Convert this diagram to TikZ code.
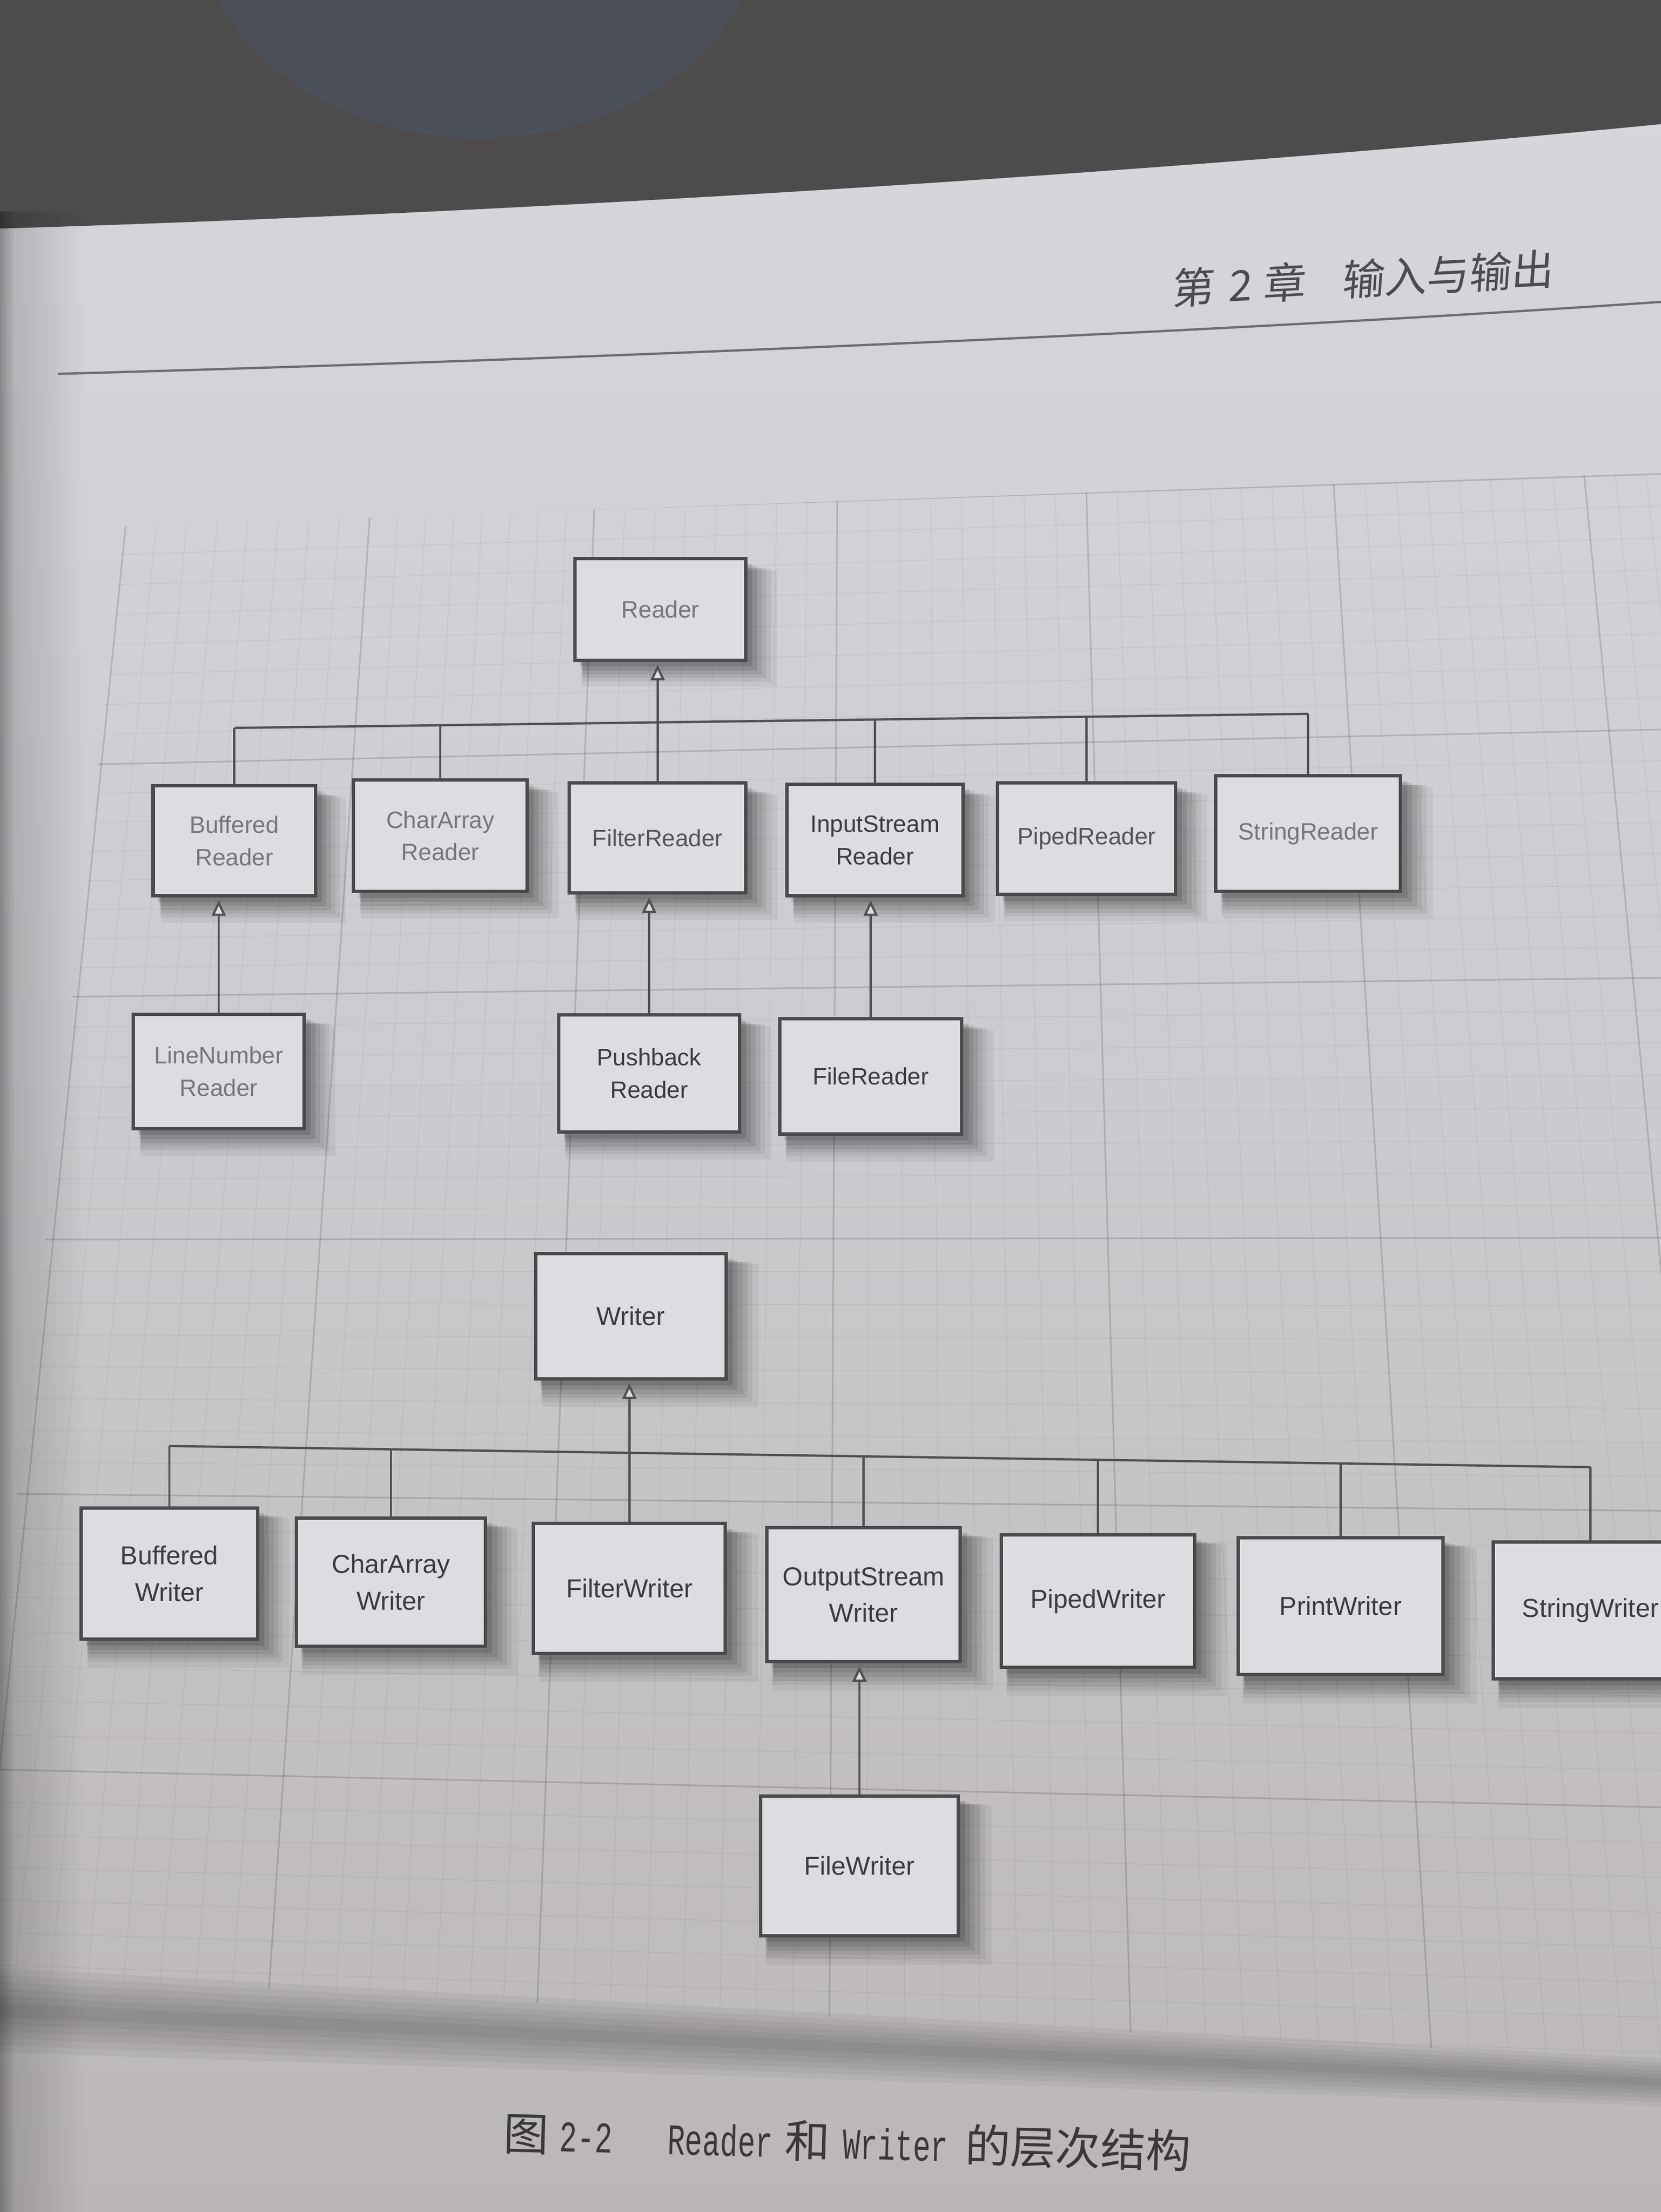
\documentclass[tikz,border=0pt]{standalone}
\usepackage{fontspec}
\setmainfont{Liberation Sans}
\newfontfamily\cjkfont{Noto Sans CJK SC}
\newfontfamily\cjkhead[FakeSlant=0.12]{Noto Sans CJK SC}
\newfontfamily\capmono[FakeStretch=0.67]{Liberation Mono}
\usetikzlibrary{arrows.meta,shadows,fadings}
\tikzfading[name=edgefade, left color=transparent!0, right color=transparent!100]
\definecolor{topdark}{HTML}{4E4B4D}
\definecolor{mugc}{HTML}{4B4F58}
\definecolor{pga}{HTML}{D8D7DC}
\definecolor{pgb}{HTML}{CCCACE}
\definecolor{pgc}{HTML}{BBB7B7}
\definecolor{boxfill}{HTML}{DDDCE0}
\definecolor{boxline}{HTML}{4A4A4D}
\definecolor{connc}{HTML}{505052}
\definecolor{txtfade}{HTML}{77777A}
\definecolor{txtmid}{HTML}{555558}
\definecolor{txtdark}{HTML}{3C3C3E}
\definecolor{headc}{HTML}{4D4B4D}
\definecolor{capc}{HTML}{3A3838}
\definecolor{rulec}{HTML}{6E6C6F}
\begin{document}
\begin{tikzpicture}[x=0.5pt,y=-0.5pt,
  cls/.style={draw=boxline, line width=1.2pt, fill=boxfill, align=center, inner sep=1pt,
    general shadow={shadow xshift=6pt,shadow yshift=-6pt,shadow scale=1.14,opacity=.05,fill=black},
    general shadow={shadow xshift=5pt,shadow yshift=-5pt,shadow scale=1.11,opacity=.06,fill=black},
    general shadow={shadow xshift=4.5pt,shadow yshift=-4.5pt,shadow scale=1.08,opacity=.07,fill=black},
    general shadow={shadow xshift=4pt,shadow yshift=-4pt,shadow scale=1.05,opacity=.08,fill=black},
    general shadow={shadow xshift=3pt,shadow yshift=-3pt,shadow scale=1.03,opacity=.10,fill=black},
    general shadow={shadow xshift=2pt,shadow yshift=-2pt,shadow scale=1.01,opacity=.12,fill=black}},
  sz/.style 2 args={minimum width=#1*0.5pt, minimum height=#2*0.5pt},
  rd/.style={font=\fontsize{8.4}{11.5}\selectfont},
  wr/.style={font=\fontsize{9.2}{13}\selectfont, text=txtdark},
  conn/.style={draw=connc, line width=0.8pt},
  inh/.style={-{Triangle[length=5.5pt,width=5pt,fill=boxfill]}, shorten >=1pt},
  gmaj/.style={draw=black, draw opacity=.15, line width=0.55pt},
  gmin/.style={draw=black, draw opacity=.045, line width=0.35pt}]
\useasboundingbox (0,0) rectangle (1177,1568);
\clip (0,0) rectangle (1177,1568);

% page background
\shade[top color=pga, bottom color=pgb] (0,0) rectangle (1177,800);
\shade[top color=pgb, bottom color=pgc] (0,800) rectangle (1177,1568);

% dark surroundings at the top and the mug
\fill[topdark] (0,0) -- (1177,0) -- (1177,88) .. controls (850,120) and (400,150) .. (0,162) -- cycle;
\fill[mugc] (340,-55) ellipse [x radius=198, y radius=153];

% left page edge
\fill[black, opacity=.18, path fading=edgefade] (0,150) rectangle (60,1568);
\fill[black, opacity=.2, path fading=edgefade] (0,150) rectangle (10,1568);

% header
\node[anchor=base west, rotate=3, text=headc, inner sep=0pt,
      font=\fontsize{15}{15}\selectfont\cjkhead] (head) at (830,216)
  {第\hspace{5pt}2\hspace{4pt}章\hspace{13pt}输入与输出};
\draw[rulec, line width=0.8pt] (41,265) .. controls (300,258) and (800,240) .. (1177,214);

% grid paper
\begin{scope}
\clip (88,373) -- (1177,335) -- (1177,1460) -- (-25,1399) -- cycle;
\foreach \ga/\gb in {66/246,246/412,412/592,592/777,777/961,961/1148,1148/1333} {
  \foreach \gk in {0,...,7} {
    \pgfmathsetmacro{\gX}{\ga+(\gb-\ga)*\gk/8}
    \pgfmathsetmacro{\gXt}{620+(\gX-620)*(1+(300-600)*0.00018)}
    \pgfmathsetmacro{\gXb}{620+(\gX-620)*(1+(1500-600)*0.00018)}
    \ifnum\gk=0
      \draw[gmaj] (\gXt,300) -- (\gXb,1500);
    \else
      \draw[gmin] (\gXt,300) -- (\gXb,1500);
    \fi
  }
}
\foreach \ga/\gb in {355/530,530/700,700/878,878/1065,1065/1268,1268/1460} {
  \foreach \gk in {0,...,7} {
    \pgfmathsetmacro{\gY}{\ga+(\gb-\ga)*\gk/8}
    \pgfmathsetmacro{\gS}{-0.033+(\gY-355)*0.000065}
    \pgfmathsetmacro{\gYl}{\gY+\gS*(-630)}
    \pgfmathsetmacro{\gYr}{\gY+\gS*(600)}
    \ifnum\gk=0
      \draw[gmaj] (-30,\gYl) -- (1200,\gYr);
    \else
      \draw[gmin] (-30,\gYl) -- (1200,\gYr);
    \fi
  }
}
\end{scope}

% shadow of the bent page
\foreach \gk in {1,...,6} {
  \fill[black, opacity=.045]
    (0,1425-5*\gk) -- (1177,1476-2.8*\gk) -- (1177,1476+2.8*\gk) -- (0,1425+5*\gk) -- cycle;
}

% ---------- Reader hierarchy ----------
\node[cls,sz={121}{72},rd,text=txtfade] (reader) at (468,432) {Reader};
\node[cls,sz={115}{78},rd,text=txtfade] (bufr) at (166,596) {Buffered\\Reader};
\node[cls,sz={123}{79},rd,text=txtfade] (carr) at (312,592.5) {CharArray\\Reader};
\node[cls,sz={125}{78},rd,text=txtmid] (fltr) at (466,594) {FilterReader};
\node[cls,sz={125}{79},rd,text=txtdark] (isr) at (620,595.5) {InputStream\\Reader};
\node[cls,sz={126}{79},rd,text=txtmid] (pipr) at (770,594.5) {PipedReader};
\node[cls,sz={131}{82},rd,text=txtfade] (strr) at (927,591) {StringReader};
\node[cls,sz={121}{81},rd,text=txtfade] (lnr) at (155,759.5) {LineNumber\\Reader};
\node[cls,sz={128}{83},rd,text=txtdark] (pbr) at (460,761) {Pushback\\Reader};
\node[cls,sz={129}{82},rd,text=txtdark] (frd) at (617,763) {FileReader};

\coordinate (rb1) at (166,516);
\coordinate (rb2) at (312,514.1);
\coordinate (rb4) at (620,510);
\coordinate (rb5) at (770,508);
\coordinate (rb6) at (927,506);
\draw[conn] (rb1) -- (rb6);
\foreach \n/\c in {bufr/rb1, carr/rb2, isr/rb4, pipr/rb5, strr/rb6}
  \draw[conn] (\n.north) -- (\c);
\draw[conn,inh] (fltr.north) -- (fltr.north |- reader.south);
\draw[conn,inh] (lnr.north) -- (lnr.north |- bufr.south);
\draw[conn,inh] (pbr.north) -- (pbr.north |- fltr.south);
\draw[conn,inh] (frd.north) -- (frd.north |- isr.south);

% ---------- Writer hierarchy ----------
\node[cls,sz={135}{89},wr] (writer) at (447,933) {Writer};
\node[cls,sz={125}{93},wr] (bw) at (120,1115.5) {Buffered\\Writer};
\node[cls,sz={134}{91},wr] (caw) at (277,1121.5) {CharArray\\Writer};
\node[cls,sz={136}{92},wr] (fw) at (446,1126) {FilterWriter};
\node[cls,sz={137}{95},wr] (osw) at (612,1130.5) {OutputStream\\Writer};
\node[cls,sz={137}{94},wr] (pw) at (778,1135) {PipedWriter};
\node[cls,sz={145}{97},wr] (prw) at (950,1138.5) {PrintWriter};
\node[cls,sz={138}{97},wr] (sw) at (1127,1141.5) {StringWriter};
\node[cls,sz={140}{99},wr] (fwr) at (609,1322.5) {FileWriter};

\coordinate (wb1) at (120,1025);
\coordinate (wb2) at (277,1027.3);
\coordinate (wb4) at (612,1032.3);
\coordinate (wb5) at (778,1034.8);
\coordinate (wb6) at (950,1037.4);
\coordinate (wb7) at (1127,1040);
\draw[conn] (wb1) -- (wb7);
\foreach \n/\c in {bw/wb1, caw/wb2, osw/wb4, pw/wb5, prw/wb6, sw/wb7}
  \draw[conn] (\n.north) -- (\c);
\draw[conn,inh] (fw.north) -- (fw.north |- writer.south);
\draw[conn,inh] (fwr.north) -- (fwr.north |- osw.south);

% caption
\node[anchor=base west, rotate=-1.5, text=capc, inner sep=0pt,
      font=\fontsize{16}{16}\selectfont] (cap) at (356,1524)
  {{\cjkfont 图}\hspace{4pt}{\fontsize{15.5}{16}\selectfont\capmono 2-2}\hspace{19.5pt}{\fontsize{15.5}{16}\selectfont\capmono Reader}\hspace{4.2pt}{\cjkfont 和}\hspace{4.5pt}{\fontsize{15.5}{16}\selectfont\capmono Writer}\hspace{6pt}{\cjkfont 的层次结构}};
\end{tikzpicture}
\end{document}
